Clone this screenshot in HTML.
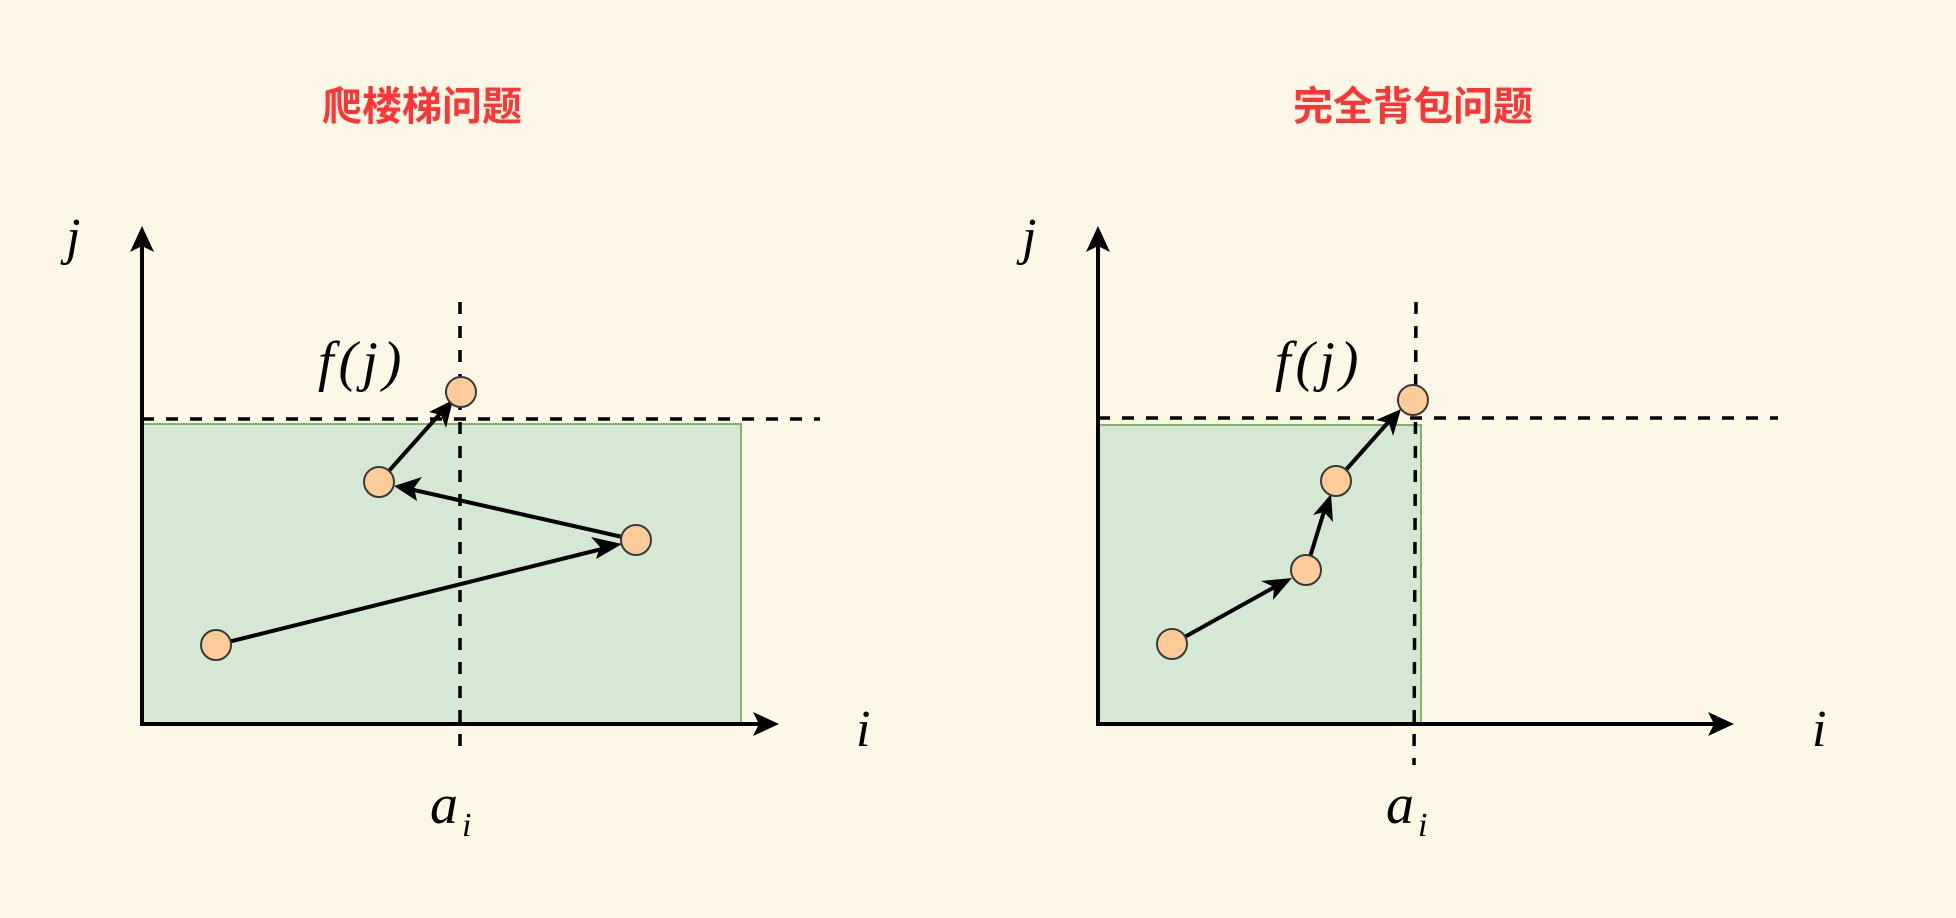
<!DOCTYPE html>
<html><head><meta charset="utf-8"><style>
html,body{margin:0;padding:0;background:#fdf8e6;}
svg{display:block;}
.m{font-family:"Liberation Serif",serif;font-style:italic;fill:#000;}
.t{font-family:"Liberation Sans","Noto Sans CJK SC",sans-serif;font-weight:bold;fill:#ff3535;font-size:40px;}
</style></head><body>
<svg width="1956" height="918" viewBox="0 0 1956 918" xmlns="http://www.w3.org/2000/svg">
<rect width="1956" height="918" fill="#fdf8e6"/>
<text class="t" x="422" y="120" text-anchor="middle">爬楼梯问题</text>
<text class="t" x="1413" y="120" text-anchor="middle">完全背包问题</text>

<!-- LEFT -->
<rect x="142" y="424" width="599" height="300" fill="#d5e8d4" stroke="#82b366" stroke-width="2"/>
<line x1="142" y1="419" x2="820" y2="419" stroke="#000" stroke-width="3.5" stroke-dasharray="12 12"/>
<line x1="460" y1="302" x2="460" y2="755" stroke="#000" stroke-width="3.5" stroke-dasharray="12 12"/>
<line x1="142" y1="726" x2="142" y2="240" stroke="#000" stroke-width="4"/>
<path d="M142 226 L154 252 L142 246 L130 252 Z" fill="#000"/>
<line x1="140" y1="724" x2="765" y2="724" stroke="#000" stroke-width="4"/>
<path d="M779 724 L753 736 L759 724 L753 712 Z" fill="#000"/>

<g stroke="#000" stroke-width="4" fill="none">
<line x1="216" y1="645" x2="610" y2="547"/>
<line x1="636" y1="540" x2="405" y2="488"/>
<line x1="379" y1="482" x2="446" y2="407"/>
</g>
<g fill="#000">
<path d="M622 544 L596 559 L600 547 L591 537 Z"/>
<path d="M394 486 L422 477 L414 488 L417 501 Z"/>
<path d="M453 400 L446 428 L441 415 L429 412 Z"/>
</g>
<g fill="#ffcc99" stroke="#36393d" stroke-width="2">
<circle cx="216" cy="645" r="15"/>
<circle cx="636" cy="540" r="15"/>
<circle cx="379" cy="482" r="15"/>
<circle cx="461" cy="392" r="15"/>
</g>
<text class="m" x="66" y="254" font-size="52">j</text>
<text class="m" x="318" y="380" font-size="56" letter-spacing="5">f(j)</text>
<text class="m" x="430" y="823" font-size="56">a</text>
<text class="m" x="462" y="836" font-size="34">i</text>
<text class="m" x="856" y="746" font-size="52">i</text>

<!-- RIGHT -->
<rect x="1098" y="425" width="323" height="299" fill="#d5e8d4" stroke="#82b366" stroke-width="2"/>
<line x1="1098" y1="418" x2="1778" y2="418" stroke="#000" stroke-width="3.5" stroke-dasharray="12 12"/>
<line x1="1416" y1="302" x2="1414" y2="765" stroke="#000" stroke-width="3.5" stroke-dasharray="12 12"/>
<line x1="1098" y1="726" x2="1098" y2="240" stroke="#000" stroke-width="4"/>
<path d="M1098 226 L1110 252 L1098 246 L1086 252 Z" fill="#000"/>
<line x1="1096" y1="724" x2="1720" y2="724" stroke="#000" stroke-width="4"/>
<path d="M1734 724 L1708 736 L1714 724 L1708 712 Z" fill="#000"/>
<g stroke="#000" stroke-width="4" fill="none">
<line x1="1172" y1="644" x2="1280" y2="584"/>
<line x1="1306" y1="570" x2="1326" y2="505"/>
<line x1="1336" y1="481" x2="1392" y2="418"/>
</g>
<g fill="#000">
<path d="M1292 578 L1273 600 L1274 587 L1261 581 Z"/>
<path d="M1331 494 L1333 522 L1324 512 L1313 515 Z"/>
<path d="M1401 409 L1393 436 L1389 423 L1376 420 Z"/>
</g>
<g fill="#ffcc99" stroke="#36393d" stroke-width="2">
<circle cx="1172" cy="644" r="15"/>
<circle cx="1306" cy="570" r="15"/>
<circle cx="1336" cy="481" r="15"/>
<circle cx="1413" cy="400" r="15"/>
</g>
<text class="m" x="1022" y="254" font-size="52">j</text>
<text class="m" x="1275" y="380" font-size="56" letter-spacing="5">f(j)</text>
<text class="m" x="1386" y="823" font-size="56">a</text>
<text class="m" x="1418" y="836" font-size="34">i</text>
<text class="m" x="1812" y="746" font-size="52">i</text>
</svg>
</body></html>
